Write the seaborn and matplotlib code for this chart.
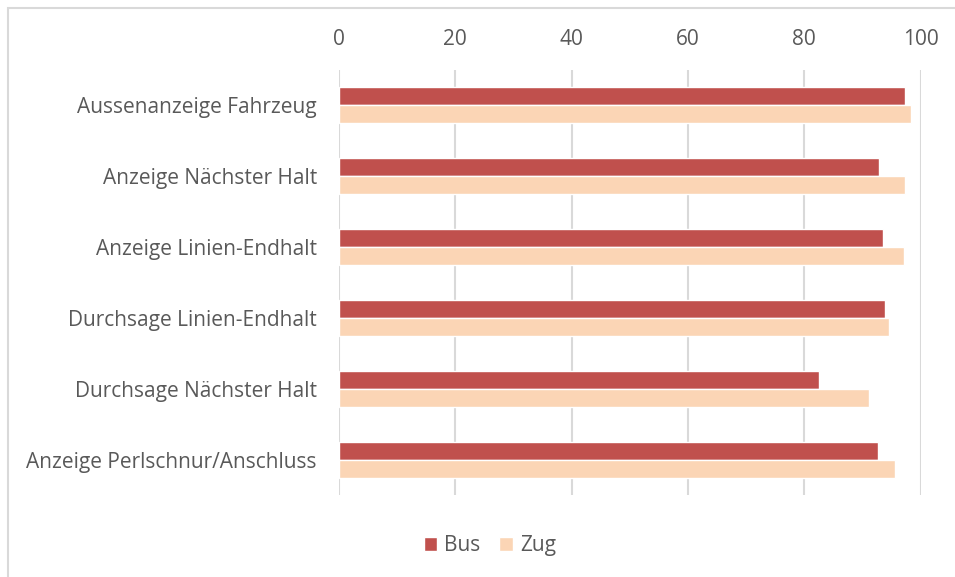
import numpy as np
import pandas as pd
import matplotlib
matplotlib.use("Agg")
import matplotlib.pyplot as plt
from matplotlib.patches import Rectangle
import seaborn as sns

# ---------------------------------------------------------------------------
# Data
# ---------------------------------------------------------------------------
categories = [
    "Aussenanzeige Fahrzeug",
    "Anzeige Nächster Halt",
    "Anzeige Linien-Endhalt",
    "Durchsage Linien-Endhalt",
    "Durchsage Nächster Halt",
    "Anzeige Perlschnur/Anschluss",
]
bus = [97.4, 92.9, 93.6, 93.8, 82.5, 92.6]
zug = [98.3, 97.4, 97.1, 94.6, 91.1, 95.6]
series = ["Bus", "Zug"]
colors = ["#C0504D", "#FBD5B5"]
xticks = [0, 20, 40, 60, 80, 100]

df = pd.DataFrame({
    "Kategorie": categories * 2,
    "Wert": bus + zug,
    "Serie": ["Bus"] * len(categories) + ["Zug"] * len(categories),
})

# ---------------------------------------------------------------------------
# Plot
# ---------------------------------------------------------------------------
sns.set_style("white")
plt.rcParams["font.family"] = ["Open Sans", "DejaVu Sans"]
text_color = "#595959"

fig = plt.figure(figsize=(9.55, 5.77), dpi=100)
ax = fig.add_axes([0.355, 0.142, 0.609, 0.737])

sns.barplot(data=df, y="Kategorie", x="Wert", hue="Serie", order=categories,
            hue_order=series, palette=colors, width=0.51, orient="h",
            saturation=1, ax=ax, zorder=3)

ax.set_xlim(0, 100)
ax.set_ylim(len(categories) - 0.5, -0.5)
ax.set_xticks(xticks)
ax.xaxis.tick_top()
ax.tick_params(axis="x", length=0, pad=14, labelsize=15, colors=text_color)
ax.tick_params(axis="y", length=0, pad=16, labelsize=15, colors=text_color)
ax.set_xlabel("")
ax.set_ylabel("")
ax.grid(axis="x", color="#D9D9D9", linewidth=1.5, zorder=0)
ax.grid(axis="y", visible=False)
for s in ax.spines.values():
    s.set_visible(False)

ax.legend_.remove()
handles, labels = ax.get_legend_handles_labels()
fig.legend(handles, labels, loc="center", bbox_to_anchor=(0.513, 0.054),
           ncol=2, frameon=False, fontsize=15, handlelength=0.65,
           handleheight=0.65, handletextpad=0.35, columnspacing=0.9,
           labelcolor=text_color)

# outer chart border
fig.patches.append(Rectangle((8 / 955, -0.1), 1.2, 1.1 - 8 / 577,
                             transform=fig.transFigure, fill=False,
                             edgecolor="#D9D9D9", linewidth=1.5))

fig.savefig("out.png", dpi=100)
plt.close(fig)
